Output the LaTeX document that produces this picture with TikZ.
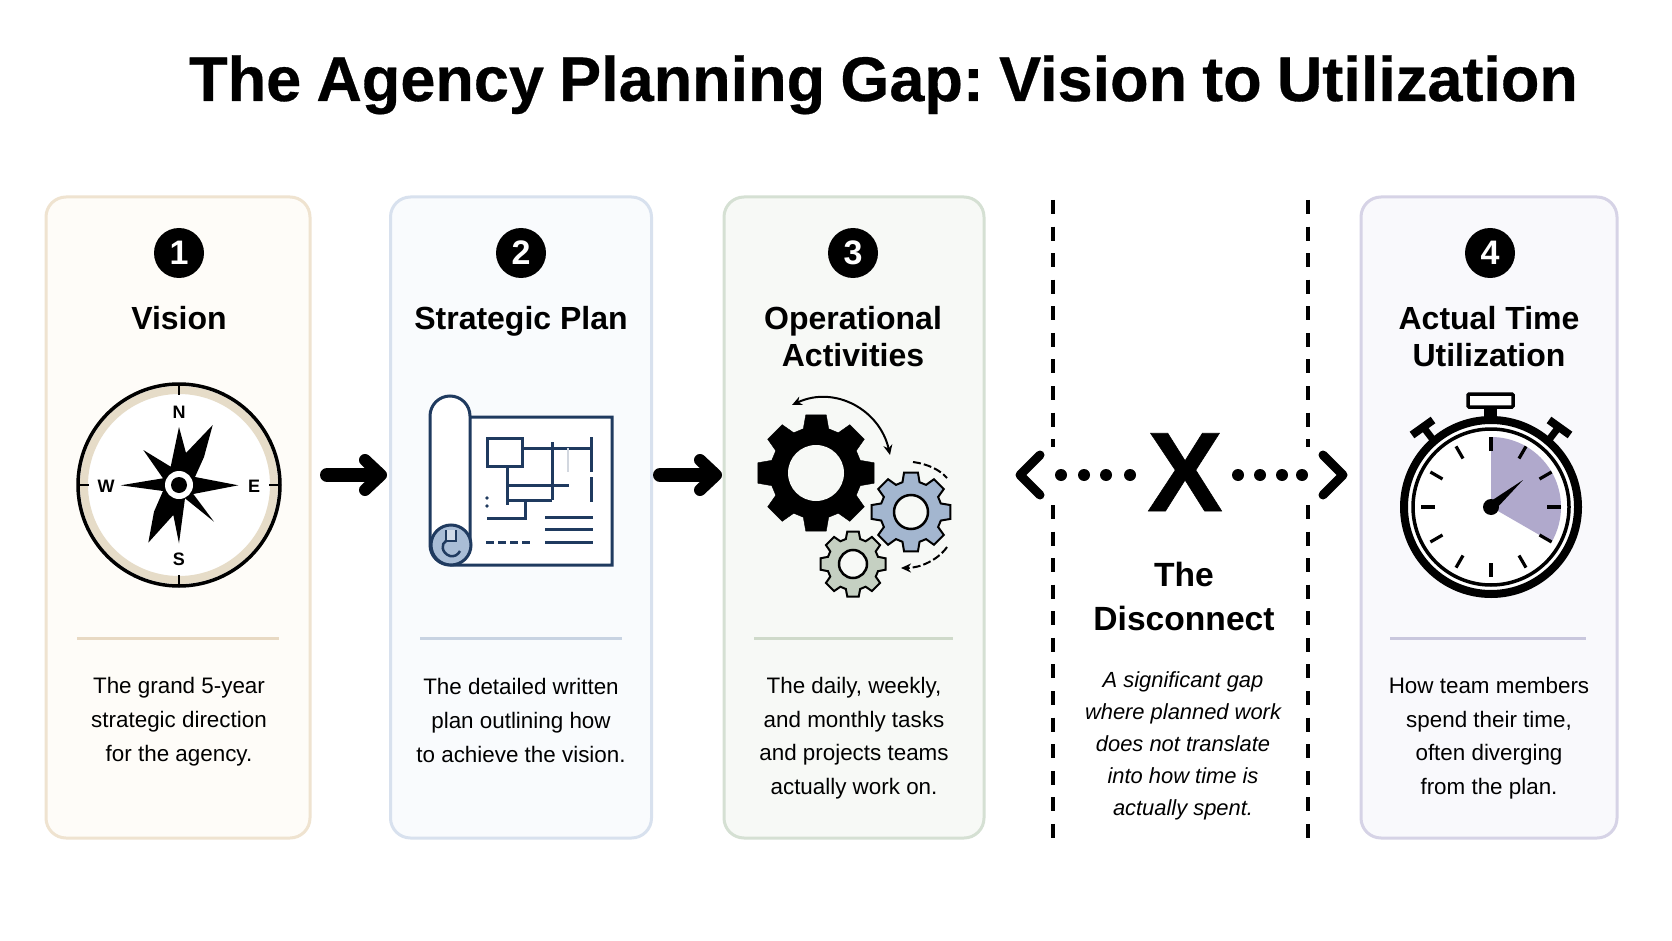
\documentclass[tikz,border=0pt]{standalone}
\usepackage{fontspec}
\setmainfont{Liberation Sans}
\newfontfamily\titlefont[FakeBold=0.5]{Liberation Sans Bold}
\usetikzlibrary{arrows.meta,calc}
\definecolor{navy}{HTML}{1F3A5F}
\definecolor{cardA}{HTML}{FEFCF8}\definecolor{edgeA}{HTML}{EFE3D0}\definecolor{ruleA}{HTML}{E8D9C3}
\definecolor{cardB}{HTML}{F9FBFD}\definecolor{edgeB}{HTML}{D8E1EE}\definecolor{ruleB}{HTML}{C8D3E2}
\definecolor{cardC}{HTML}{F7F9F6}\definecolor{edgeC}{HTML}{D5E0D3}\definecolor{ruleC}{HTML}{CFDACA}
\definecolor{cardD}{HTML}{F9F9FC}\definecolor{edgeD}{HTML}{D6D3E6}\definecolor{ruleD}{HTML}{C9C7DD}
\definecolor{ringtan}{HTML}{E6DCC8}
\definecolor{gearblue}{HTML}{A3B6CF}
\definecolor{geargreen}{HTML}{C5D0C2}
\definecolor{sector}{HTML}{B0A9CC}
\definecolor{rollblue}{HTML}{A9BDD6}
\tikzset{
 card/.style={rectangle,rounded corners=20pt,line width=3pt,inner sep=0pt,outer sep=0pt,minimum height=641pt},
 numdisc/.style={circle,fill=black,text=white,minimum size=50pt,inner sep=0pt,font=\fontsize{34}{34}\selectfont\bfseries},
 heading/.style={align=center,inner sep=0pt,font=\fontsize{32}{37}\selectfont\bfseries},
 body/.style={align=center,inner sep=0pt,font=\fontsize{22.4}{34}\selectfont},
 bodylong/.style={align=center,inner sep=0pt,font=\fontsize{22.4}{33.5}\selectfont},
 bodyital/.style={align=center,inner sep=0pt,font=\fontsize{21.9}{32}\selectfont\itshape},
 compassletter/.style={inner sep=0pt,font=\fontsize{18}{18}\selectfont\bfseries},
 divider/.style={line width=3pt},
 shaftline/.style={line width=14pt,line cap=round},
 headline/.style={line width=12pt,line cap=round,line join=round},
 gapdash/.style={line width=3.5pt,dash pattern=on 14pt off 12.58pt},
 gapdot/.style={circle,fill=black,minimum size=12pt,inner sep=0pt},
 gapchev/.style={line width=9pt,line cap=round,line join=round},
 plan/.style={navy,line width=3pt},
 rotarrow/.style={line width=2pt,-{Stealth[length=10pt,width=9pt]}},
}
% gear: centre, outer, root, outer half-angle, root half-angle, draw options
\newcommand{\agear}[6]{%
 \draw[#6] ($(#1)+(-#5:#3 pt)$)
  \foreach \ang in {0,45,...,315} {
   -- ($(#1)+(\ang-#5:#3 pt)$) -- ($(#1)+(\ang-#4:#2 pt)$) -- ($(#1)+(\ang+#4:#2 pt)$) -- ($(#1)+(\ang+#5:#3 pt)$)
  } -- cycle;}
\begin{document}
\begin{tikzpicture}[x=1pt,y=-1pt]
\useasboundingbox (0,0) rectangle (1672,941);
\fill[white] (0,0) rectangle (1672,941);
% title
\node[anchor=base west,inner sep=0pt,font=\titlefont\fontsize{63}{63}\selectfont] (title) at (189,101) {\frenchspacing\spaceskip=15.2pt plus 0pt minus 0pt\relax The Agency Planning Gap: Vision to Utilization};
% cards
\node[card,minimum width=264pt,draw=edgeA,fill=cardA] (cardone) at (178,517.5) {};
\node[card,minimum width=261pt,draw=edgeB,fill=cardB] (cardtwo) at (521,517.5) {};
\node[card,minimum width=260pt,draw=edgeC,fill=cardC] (cardthree) at (854,517.5) {};
\node[card,minimum width=256pt,draw=edgeD,fill=cardD] (cardfour) at (1489,517.5) {};
% number discs
\node[numdisc] (numone) at (179,253) {1};
\node[numdisc] (numtwo) at (521,253) {2};
\node[numdisc] (numthree) at (853,253) {3};
\node[numdisc] (numfour) at (1490,253) {4};
% headings
\node[heading] (headone) at (179,318) {Vision};
\node[heading] (headtwo) at (521,321) {Strategic Plan};
\node[heading] (headthree) at (853,337) {Operational\\Activities};
\node[heading] (headfour) at (1489,337) {Actual Time\\Utilization};
% dividers
\coordinate (dA1) at (77,638); \coordinate (dA2) at (279,638);
\coordinate (dB1) at (420,638); \coordinate (dB2) at (622,638);
\coordinate (dC1) at (754,638); \coordinate (dC2) at (953,638);
\coordinate (dD1) at (1390,638); \coordinate (dD2) at (1586,638);
\draw[divider,ruleA] (dA1) -- (dA2);
\draw[divider,ruleB] (dB1) -- (dB2);
\draw[divider,ruleC] (dC1) -- (dC2);
\draw[divider,ruleD] (dD1) -- (dD2);
% body
\node[body] (bodyone) at (179,722) {The grand 5-year\\strategic direction\\for the agency.};
\node[body] (bodytwo) at (521,720) {The detailed written\\plan outlining how\\to achieve the vision.};
\node[bodylong] (bodythree) at (854,738) {The daily, weekly,\\and monthly tasks\\and projects teams\\actually work on.};
\node[bodylong] (bodyfour) at (1489,738) {How team members\\spend their time,\\often diverging\\from the plan.};
% flow arrows
\coordinate (aAs) at (327,475); \coordinate (aAe) at (378,475);
\coordinate (aAt) at (365,460); \coordinate (aAb) at (365,490);
\draw[shaftline] (aAs) -- (aAe);
\draw[headline] (aAt) -- (381,475) -- (aAb);
\coordinate (aBs) at (660,475); \coordinate (aBe) at (712,475);
\coordinate (aBt) at (700,460); \coordinate (aBb) at (700,490);
\draw[shaftline] (aBs) -- (aBe);
\draw[headline] (aBt) -- (716,475) -- (aBb);
% compass
\coordinate (cmp) at (179,485);
\fill[white] (cmp) circle[radius=100pt];
\draw[ringtan,line width=8pt] (cmp) circle[radius=95pt];
\draw[black,line width=3.5pt] (cmp) circle[radius=101pt];
\foreach \ang in {0,90,180,270}
  \draw[line width=2.5pt] ($(cmp)+(\ang:101pt)$) -- ($(cmp)+(\ang:90pt)$);
\fill (179,427) -- (186,453) -- (212.7,425) -- (204,457) -- (195,477) -- (238.3,485.3) -- (193.3,494) -- (214,521.7) -- (185,498.3) -- (179,543.3) -- (173.3,515) -- (148.3,542.7) -- (154,511.7) -- (163,491) -- (120.7,485.3) -- (163,478.3) -- (143.3,450) -- (170.7,466.7) -- cycle;
\fill[white] (cmp) circle[radius=14pt];
\fill[black] (cmp) circle[radius=8pt];
\node[compassletter] (cN) at (179,412) {N};
\node[compassletter] (cS) at (179,559) {S};
\node[compassletter] (cE) at (254,486) {E};
\node[compassletter] (cW) at (106,486) {W};
% blueprint
\draw[plan,fill=white] (470,417) -- (612,417) -- (612,565) -- (450,565) arc[start angle=270,end angle=180,radius=20pt] -- (430,416) arc[start angle=180,end angle=0,radius=20pt] -- (470,545);
\draw[plan,fill=rollblue] (451,545) circle[radius=20pt];
\fill[rollblue!55] (446,530) rectangle (456,541);
\draw[plan,line width=2.5pt] (446,530) -- (446,541) -- (456,541) -- (456,530);
\draw[plan,line width=2.5pt] (446,541) .. controls (441,543) and (441,553) .. (450,556) .. controls (454,557) and (458,555) .. (460,551);
\draw[plan] (487,438) rectangle (522,466);
\draw[plan] (522,448) -- (593,448);
\draw[plan] (552,442) -- (552,500);
\draw[plan] (591,437) -- (591,472) (591,477) -- (591,502);
\draw[navy!20,line width=2.5pt] (568,448) -- (568,472);
\draw[plan] (507,466) -- (507,505);
\draw[plan] (509,485) -- (569,485);
\draw[plan] (509,500) -- (552,500);
\draw[plan] (509,500) -- (525,500) -- (525,518) -- (487,518);
\fill[navy] (487,498) circle[radius=1.8pt] (487,506) circle[radius=1.8pt];
\draw[plan] (545,517) -- (593,517);
\draw[plan] (545,529) -- (593,529);
\draw[plan] (545,542) -- (593,542);
\draw[plan,dash pattern=on 8pt off 4pt] (486,542) -- (530,542);
% gears
\agear{816,473}{59}{46}{10}{16}{fill=black}
\fill[cardC] (816,473) circle[radius=28pt];
\agear{911,512}{40}{31}{10}{16}{fill=gearblue,draw=black,line width=2pt}
\draw[fill=cardC,line width=2.5pt] (911,512) circle[radius=17pt];
\agear{853,564}{33}{26}{10}{16}{fill=geargreen,draw=black,line width=2pt}
\draw[fill=cardC,line width=2.5pt] (853,564) circle[radius=14pt];
\coordinate (rotA) at (792,405); \coordinate (rotB) at (890,455);
\draw[line width=2pt,{Stealth[length=10pt,width=9pt]}-{Stealth[length=10pt,width=9pt]}] (rotA) .. controls (835,385) and (880,410) .. (rotB);
\draw[line width=2pt,dash pattern=on 8pt off 3pt] (913,462) .. controls (928,464) and (940,470) .. (947,478);
\coordinate (rotC) at (947,547); \coordinate (rotD) at (901,568);
\draw[rotarrow,dash pattern=on 8pt off 3pt] (rotC) .. controls (938,560) and (920,568) .. (rotD);
% disconnect gap
\coordinate (gL1) at (1053,200); \coordinate (gL2) at (1053,447);
\coordinate (gL3) at (1053,505); \coordinate (gL4) at (1053,838);
\coordinate (gR1) at (1308,200); \coordinate (gR2) at (1308,447);
\coordinate (gR3) at (1308,505); \coordinate (gR4) at (1308,838);
\draw[gapdash] (gL1) -- (gL2);
\draw[gapdash] (gL3) -- (gL4);
\draw[gapdash] (gR1) -- (gR2);
\draw[gapdash] (gR3) -- (gR4);
\coordinate (chLt) at (1040,455); \coordinate (chLb) at (1040,495);
\coordinate (chRt) at (1323,455); \coordinate (chRb) at (1323,495);
\draw[gapchev] (chLt) -- (1020,475) -- (chLb);
\draw[gapchev] (chRt) -- (1343,475) -- (chRb);
\foreach \px/\nm in {1061/a,1084/b,1106/c,1130/d,1238/e,1260/f,1282/g,1302/h}
  \node[gapdot] (dot\nm) at (\px,475) {};
\node[anchor=base,inner sep=0pt,font=\titlefont\fontsize{113}{113}\selectfont] (bigx) at (1185,511) {X};
\node[align=center,inner sep=0pt,font=\fontsize{33.6}{44}\selectfont\bfseries] (gaphead) at (1184,596) {The\\Disconnect};
\node[bodyital] (gapbody) at (1183,746) {A significant gap\\where planned work\\does not translate\\into how time is\\actually spent.};
% stopwatch
\coordinate (sw) at (1491,507);
\draw[line width=8pt,fill=white] (sw) circle[radius=87pt];
\draw[line width=3.5pt] (sw) circle[radius=78pt];
\draw[fill=white,line width=3.5pt,rounded corners=1pt] (1468,394) rectangle (1513,407);
\fill (1484,407) rectangle (1497,420);
\draw[line width=8pt] (1412,435) -- (1433,420);
\draw[line width=7pt] (1424,428) -- (1434,441);
\draw[line width=8pt] (1570,435) -- (1549,420);
\draw[line width=7pt] (1558,428) -- (1548,441);
\fill[sector] (sw) -- ($(sw)+(90:70pt)$) arc[start angle=90,end angle=-30,radius=70pt] -- cycle;
\foreach \ang in {0,30,...,330}
  \draw[line width=3.2pt] ($(sw)+(\ang:56pt)$) -- ($(sw)+(\ang:70pt)$);
\fill (sw) circle[radius=8pt];
\fill ($(sw)+(-3,-4)$) -- (1523,480) -- ($(sw)+(4,3)$) -- cycle;
\end{tikzpicture}
\end{document}
